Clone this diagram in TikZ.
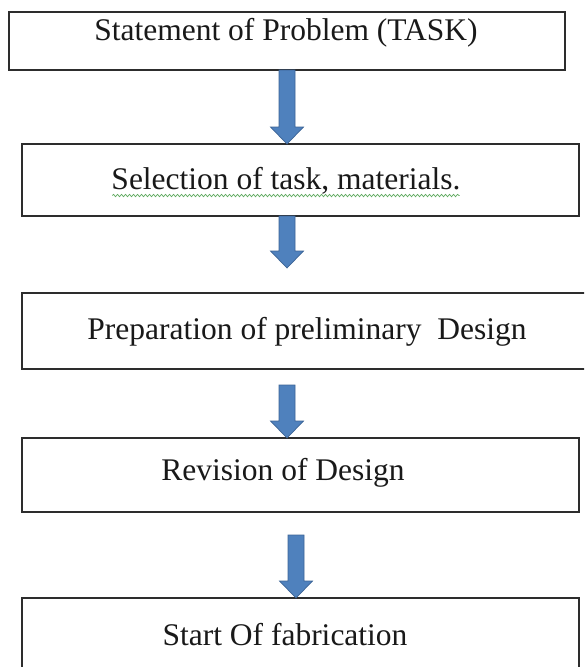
\documentclass[tikz,border=0pt]{standalone}
\usepackage{fontspec}
\setmainfont{Liberation Serif}
\usetikzlibrary{calc,decorations.pathmorphing}

\definecolor{arrowfill}{RGB}{79,129,189}
\definecolor{arrowline}{RGB}{60,100,150}
\definecolor{boxline}{RGB}{45,45,45}
\definecolor{textcol}{RGB}{25,25,25}
\definecolor{spellcheck}{RGB}{95,170,95}

\tikzset{
  flowbox/.style={draw=boxline, line width=1.6pt, rectangle, inner sep=0pt, outer sep=0pt, fill=white},
  steptext/.style={anchor=base, inner sep=0pt, text=textcol, font=\fontsize{31.5}{38}\selectfont},
  flowarrow/.style={fill=arrowfill, draw=arrowline, line width=0.7pt, line join=miter},
  squiggle/.style={draw=spellcheck, line width=0.7pt, decorate,
    decoration={snake, segment length=4pt, amplitude=1.2pt}}
}

% block arrow from #1 (top of shaft) down to #2 (tip)
\newcommand\blockarrow[2]{%
  \path[flowarrow] let \p1=#1, \p2=#2 in
    ({\x1-8pt},\y1) -- ({\x1-8pt},{\y2+17pt}) -- ({\x1-16.5pt},{\y2+17pt}) --
    (\x1,\y2) -- ({\x1+16.5pt},{\y2+17pt}) -- ({\x1+8pt},{\y2+17pt}) --
    ({\x1+8pt},\y1) -- cycle;}

\begin{document}
\begin{tikzpicture}[x=1pt, y=-1pt]
  \clip (0,0) rectangle (584,667);
  \fill[white] (0,0) rectangle (584,667);

  % process boxes
  \node[flowbox, minimum width=556pt, minimum height=58pt] (b1) at (287,41) {};
  \node[flowbox, minimum width=557pt, minimum height=72pt] (b2) at (300.5,180) {};
  \node[flowbox, minimum width=573pt, minimum height=76pt] (b3) at (308.5,331) {};
  \node[flowbox, minimum width=557pt, minimum height=74pt] (b4) at (300.5,475) {};
  \node[flowbox, minimum width=557pt, minimum height=102pt] (b5) at (300.5,649) {};

  % box labels
  \node[steptext] (t1) at (286,40) {Statement of Problem (TASK)};
  \node[steptext] (t2) at (286,189) {Selection of task, materials.};
  \node[steptext] (t3) at (307,339) {Preparation of preliminary\ \ Design};
  \node[steptext] (t4) at (283,480) {Revision of Design};
  \node[steptext] (t5) at (285,645) {Start Of fabrication};

  % wavy underline under the second label
  \draw[squiggle] ($(t2.base west)+(1,6.5)$) -- ($(t2.base east)+(-1,6.5)$);

  % arrow end points
  \coordinate (a1s) at (b1.south);
  \coordinate (a1e) at (a1s |- b2.north);
  \coordinate (a2s) at (a1s |- b2.south);
  \coordinate (a2e) at (287,268);
  \coordinate (a3s) at (287,385);
  \coordinate (a3e) at (a3s |- b4.north);
  \coordinate (a4s) at (296,535);
  \coordinate (a4e) at (a4s |- b5.north);

  % flow arrows
  \blockarrow{(a1s)}{(a1e)}
  \blockarrow{(a2s)}{(a2e)}
  \blockarrow{(a3s)}{(a3e)}
  \blockarrow{(a4s)}{(a4e)}
\end{tikzpicture}
\end{document}
